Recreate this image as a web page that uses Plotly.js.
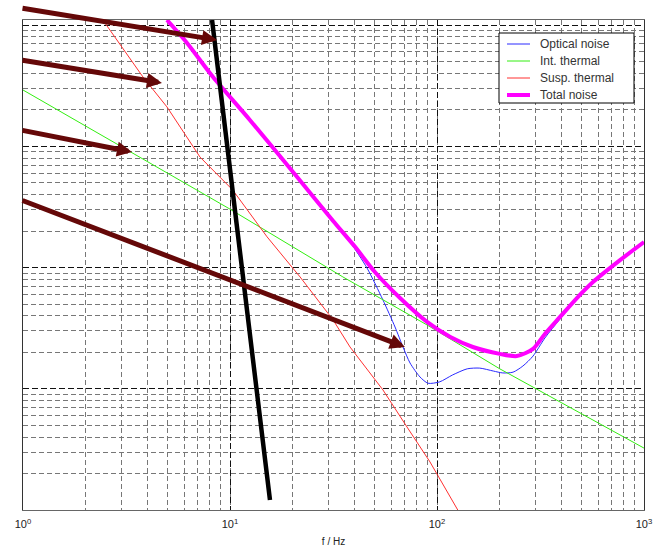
<!DOCTYPE html>
<html>
<head>
<meta charset="utf-8">
<script src="https://cdn.plot.ly/plotly-3.0.1.min.js"></script>
<style>html,body{margin:0;padding:0;background:#fff}#chart{width:655px;height:547px}</style>
</head>
<body>
<div id="chart"></div>
<script>
// ---- data ----
const freqOptical = [4.96, 6.20, 8.28, 12.5, 21.1, 31.5, 38.0, 45.9, 54.8, 62.7, 68.5, 74.1, 82.8, 90.5, 103, 119, 140, 161, 187, 208, 233, 260, 291, 332, 393, 474, 567, 766, 1000];
const opticalNoise = [1.10e-19, 7.11e-20, 3.72e-20, 1.64e-20, 5.57e-21, 2.40e-21, 1.62e-21, 9.91e-22, 5.40e-22, 3.23e-22, 2.21e-22, 1.63e-22, 1.25e-22, 1.11e-22, 1.14e-22, 1.30e-22, 1.46e-22, 1.48e-22, 1.40e-22, 1.35e-22, 1.37e-22, 1.54e-22, 1.86e-22, 2.62e-22, 3.76e-22, 5.50e-22, 7.45e-22, 1.13e-21, 1.59e-21];

const freqInt = [1, 10, 35.1, 89.5, 201, 393, 1000];
const intThermal = [2.91e-20, 3.03e-21, 8.36e-22, 3.36e-22, 1.46e-22, 7.78e-23, 3.24e-23];

const freqSusp = [2.43, 3.80, 4.96, 7.16, 10.3, 15.1, 21.8, 31.5, 38.0, 54.8, 71.6, 92.5, 126, 136.5];
const suspThermal = [1.10e-19, 3.72e-20, 2.11e-20, 8.15e-21, 4.36e-21, 1.79e-21, 8.36e-22, 3.69e-22, 2.21e-22, 9.78e-23, 4.84e-23, 2.49e-23, 1.0e-23, 8.28e-24];

const freqTotal = [4.96, 6.20, 8.28, 12.5, 21.1, 31.5, 40.2, 50.1, 66.3, 89.5, 116, 149, 201, 243, 291, 332, 393, 474, 567, 766, 1000];
const totalNoise = [1.10e-19, 7.11e-20, 3.72e-20, 1.64e-20, 5.57e-21, 2.42e-21, 1.48e-21, 9.18e-22, 5.60e-22, 3.56e-22, 2.67e-22, 2.21e-22, 1.94e-22, 1.86e-22, 2.13e-22, 2.83e-22, 3.91e-22, 5.60e-22, 7.59e-22, 1.15e-21, 1.62e-21];

const freqSeismic = [8.19, 10, 11.8, 12.9, 15.6];
const seismicWall = [1.10e-19, 6.14e-21, 6.52e-22, 1.76e-22, 1.21e-23];

const arrowHeadF = [8.65, 4.69, 3.36, 70.0];
const arrowHeadV = [7.52e-20, 3.33e-20, 8.97e-21, 2.21e-22];
const arrowTailF = [0.978, 0.978, 0.978, 0.978];
const arrowTailV = [1.38e-19, 5.14e-20, 1.36e-20, 3.61e-21];

const xTickVals = [1, 10, 100, 1000];
const xTickText = ['10<sup>0</sup>', '10<sup>1</sup>', '10<sup>2</sup>', '10<sup>3</sup>'];
const seriesNames = ['Optical noise', 'Int. thermal', 'Susp. thermal', 'Total noise'];
const seriesColors = ['#2a2aff', '#33ee11', '#ff3030', '#ff00ff'];
const seriesWidths = [1, 1, 1, 4];
const xTitle = 'f / Hz';

// ---- traces ----
const traces = [
  {x: freqOptical, y: opticalNoise, name: seriesNames[0], mode: 'lines',
   line: {color: seriesColors[0], width: seriesWidths[0], shape: 'spline', smoothing: 0.7}},
  {x: freqInt, y: intThermal, name: seriesNames[1], mode: 'lines',
   line: {color: seriesColors[1], width: seriesWidths[1]}},
  {x: freqSusp, y: suspThermal, name: seriesNames[2], mode: 'lines',
   line: {color: seriesColors[2], width: seriesWidths[2]}},
  {x: freqTotal, y: totalNoise, name: seriesNames[3], mode: 'lines',
   line: {color: seriesColors[3], width: seriesWidths[3], shape: 'spline', smoothing: 0.7}},
  {x: freqSeismic, y: seismicWall, name: 'seismic', mode: 'lines',
   line: {color: '#000000', width: 4.5}}
];

const annotations = arrowHeadF.map((f, i) => ({
  x: Math.log10(f), y: Math.log10(arrowHeadV[i]), xref: 'x', yref: 'y',
  ax: Math.log10(arrowTailF[i]), ay: Math.log10(arrowTailV[i]), axref: 'x', ayref: 'y',
  text: '', showarrow: true, arrowhead: 2, arrowsize: 0.6, arrowwidth: 5,
  arrowcolor: '#650808', standoff: 0, startstandoff: 0
}));

// ---- legend box drawn in the MATLAB style (paper coordinates) ----
const plotL = 23, plotW = 621, plotB = 510, plotH = 490;
const px2x = p => (p - plotL) / plotW;
const py2y = p => (plotB - p) / plotH;
const shapes = [{type: 'rect', xref: 'paper', yref: 'paper',
  x0: px2x(499), x1: px2x(634), y0: py2y(103), y1: py2y(33),
  fillcolor: '#ffffff', line: {color: '#000000', width: 1}, layer: 'above'}];
seriesNames.forEach((name, i) => {
  const rowY = py2y(44 + 17 * i);
  shapes.push({type: 'line', xref: 'paper', yref: 'paper',
    x0: px2x(507), x1: px2x(530), y0: rowY, y1: rowY,
    line: {color: seriesColors[i], width: seriesWidths[i]}, layer: 'above'});
  annotations.push({xref: 'paper', yref: 'paper', x: px2x(538), y: rowY,
    xanchor: 'left', yanchor: 'middle', text: name, showarrow: false,
    font: {size: 12, color: '#333'}});
});

const layout = {
  width: 655, height: 547,
  margin: {l: 23, r: 11, t: 20, b: 37, pad: 0},
  paper_bgcolor: '#ffffff', plot_bgcolor: '#ffffff',
  font: {family: 'Arial, "Liberation Sans", sans-serif', size: 11, color: '#111'},
  showlegend: false,
  xaxis: {type: 'log', range: [0, 3], tickmode: 'array', tickvals: xTickVals, ticktext: xTickText,
    showgrid: true, gridcolor: '#111', gridwidth: 1, griddash: '6px,3px',
    minor: {dtick: 'D1', showgrid: true, gridcolor: '#777', gridwidth: 1, griddash: '5px,3px', ticks: ''},
    showline: true, linecolor: '#666', linewidth: 1, mirror: true, ticks: '', zeroline: false,
    tickfont: {size: 11, color: '#222'}, ticklabelstandoff: 4,
    title: {text: xTitle, font: {size: 10, color: '#222'}, standoff: 8}},
  yaxis: {type: 'log', range: [-23, -23 + 490 / 121.25], dtick: 1,
    showgrid: true, gridcolor: '#111', gridwidth: 1, griddash: '6px,3px',
    minor: {dtick: 'D1', showgrid: true, gridcolor: '#777', gridwidth: 1, griddash: '5px,3px', ticks: ''},
    showline: true, linecolor: '#333', linewidth: 1, mirror: true, ticks: '', zeroline: false,
    showticklabels: false},
  shapes: shapes,
  annotations: annotations
};

Plotly.newPlot('chart', traces, layout, {displayModeBar: false, staticPlot: true});
</script>
</body>
</html>
